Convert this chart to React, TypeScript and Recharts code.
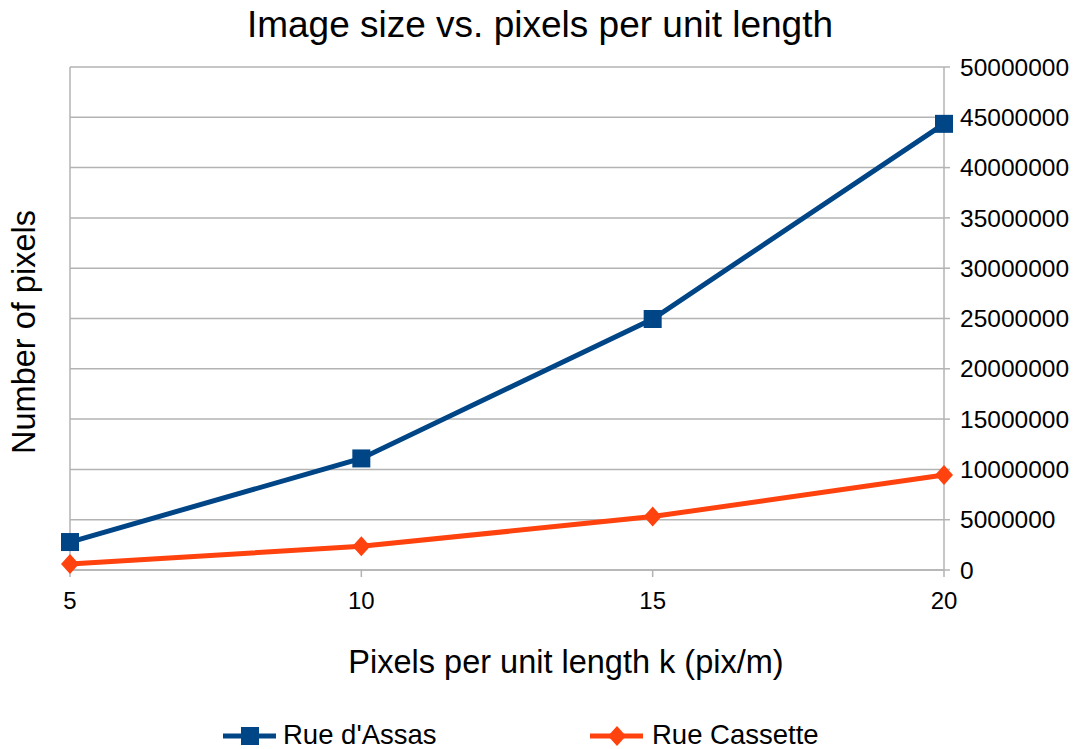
import React from "react";
import { LineChart, Line, XAxis, YAxis, CartesianGrid } from "recharts";

const kValues = [5, 10, 15, 20];
const rueAssas = [2780000, 11090000, 24950000, 44350000];
const rueCassette = [590000, 2360000, 5310000, 9440000];
const yTicks = [0, 5000000, 10000000, 15000000, 20000000, 25000000, 30000000, 35000000, 40000000, 45000000, 50000000];
const xTicks = [5, 10, 15, 20];
const seriesNames = ["Rue d'Assas", "Rue Cassette"];
const titleText = "Image size vs. pixels per unit length";
const xTitle = "Pixels per unit length k (pix/m)";
const yTitle = "Number of pixels";

const BLUE = "#004586";
const ORANGE = "#ff420e";
const GRID = "#b3b3b3";
const FONT = "'Liberation Sans', Arial, sans-serif";

const data = kValues.map((k, i) => ({ k, assas: rueAssas[i], cassette: rueCassette[i] }));

const SquareDot = (props: any) => {
  const { cx, cy } = props;
  if (cx == null || cy == null) return null;
  return <rect x={cx - 9} y={cy - 9} width={18} height={18} fill={BLUE} />;
};

const DiamondDot = (props: any) => {
  const { cx, cy } = props;
  if (cx == null || cy == null) return null;
  return <polygon points={`${cx},${cy - 10} ${cx + 9},${cy} ${cx},${cy + 10} ${cx - 9},${cy}`} fill={ORANGE} />;
};

export default function App() {
  return (
    <div style={{ position: "absolute", left: 0, top: 0, width: 1075, height: 749, background: "#fff", fontFamily: FONT }}>
      <LineChart width={1075} height={749} data={data} margin={{ top: 67, right: 0, bottom: 119, left: 70 }}>
        <CartesianGrid
          stroke={GRID}
          strokeWidth={1.5}
          vertical={true}
          verticalCoordinatesGenerator={(p: any) => [p.offset.left]}
        />
        <XAxis
          dataKey="k"
          type="number"
          domain={[5, 20]}
          ticks={xTicks}
          height={60}
          tickSize={7}
          tickMargin={15}
          stroke={GRID}
          strokeWidth={1.5}
          tick={{ fill: "#000", fontSize: 24, fontFamily: FONT }}
        />
        <YAxis
          orientation="right"
          type="number"
          domain={[0, 50000000]}
          ticks={yTicks}
          width={131}
          tickSize={6}
          tickMargin={10}
          stroke={GRID}
          strokeWidth={1.5}
          interval={0}
          tick={{ fill: "#000", fontSize: 24.5, fontFamily: FONT, textAnchor: "start" }}
        />
        <Line
          type="linear"
          dataKey="assas"
          name={seriesNames[0]}
          stroke={BLUE}
          strokeWidth={5}
          dot={<SquareDot />}
          activeDot={false}
          isAnimationActive={false}
        />
        <Line
          type="linear"
          dataKey="cassette"
          name={seriesNames[1]}
          stroke={ORANGE}
          strokeWidth={5}
          dot={<DiamondDot />}
          activeDot={false}
          isAnimationActive={false}
        />
      </LineChart>
      <svg width={1075} height={749} style={{ position: "absolute", left: 0, top: 0, pointerEvents: "none" }}>
        <text x={540} y={37} textAnchor="middle" fontSize={37} fontFamily={FONT} fill="#000">{titleText}</text>
        <text x={566} y={673} textAnchor="middle" fontSize={32.5} fontFamily={FONT} fill="#000">{xTitle}</text>
        <text x={35} y={332} textAnchor="middle" fontSize={32.5} fontFamily={FONT} fill="#000" transform="rotate(-90, 35, 332)">{yTitle}</text>
        <line x1={223} y1={736} x2={276} y2={736} stroke={BLUE} strokeWidth={5} />
        <rect x={241} y={727} width={18} height={18} fill={BLUE} />
        <text x={283} y={744} fontSize={27.5} fontFamily={FONT} fill="#000">{seriesNames[0]}</text>
        <line x1={590} y1={736} x2={643} y2={736} stroke={ORANGE} strokeWidth={5} />
        <polygon points="617,726 626,736 617,746 608,736" fill={ORANGE} />
        <text x={652} y={744} fontSize={27.5} fontFamily={FONT} fill="#000">{seriesNames[1]}</text>
      </svg>
    </div>
  );
}
